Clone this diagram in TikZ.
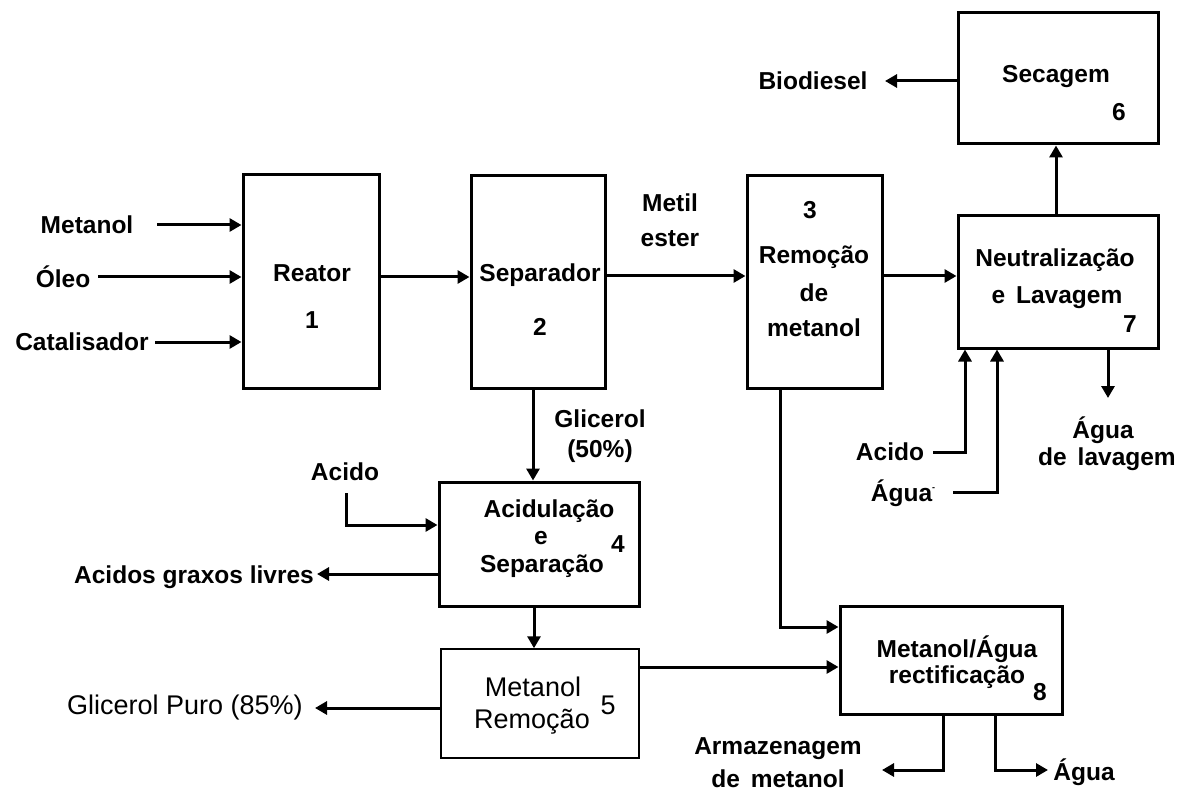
\documentclass[tikz,border=0pt]{standalone}
\usepackage{fontspec}
\setmainfont{Liberation Sans}
\usetikzlibrary{arrows.meta}
\begin{document}
\begin{tikzpicture}[x=1pt,y=-1pt,
  box/.style={draw, line width=3pt, rectangle, inner sep=0pt},
  thinbox/.style={draw, line width=1.5pt, rectangle, inner sep=0pt},
  lbl/.style={font=\fontsize{24.5}{28}\selectfont\bfseries, inner sep=0pt, align=center},
  lblr/.style={font=\fontsize{27}{31}\selectfont, inner sep=0pt, align=center},
  conn/.style={line width=3pt, -{Triangle[length=12pt,width=13pt]}},
  plain/.style={line width=3pt}
]
\useasboundingbox (0,0) rectangle (1188,794);
\fill[white] (0,0) rectangle (1188,794);

% boxes
\node[box, minimum width=136pt, minimum height=213pt] (reator) at (311,281.5) {};
\node[box, minimum width=134pt, minimum height=212pt] (separador) at (538,282) {};
\node[box, minimum width=135pt, minimum height=212pt] (remocao) at (814.5,282) {};
\node[box, minimum width=200pt, minimum height=131pt] (secagem) at (1058,78.5) {};
\node[box, minimum width=200pt, minimum height=132pt] (neutral) at (1058,282) {};
\node[box, minimum width=200pt, minimum height=124pt] (acid) at (539,544) {};
\node[thinbox, minimum width=198pt, minimum height=109pt] (metrem) at (540,703.5) {};
\node[box, minimum width=222pt, minimum height=108pt] (retif) at (951,660) {};

% texts in boxes
\node[lbl] (treator) at (312,273) {Reator};
\node[lbl] (t1) at (312,320) {1};
\node[lbl] (tsep) at (540,275) {Separador};
\node[lbl] (t2) at (540,327) {2};
\node[lbl] (t3) at (810,210) {3};
\node[lbl] (trem) at (814,257) {Remoção};
\node[lbl] (tde) at (814,293) {de};
\node[lbl] (tmetn) at (814,328) {metanol};
\node[lbl] (tsec) at (1056,77) {Secagem};
\node[lbl] (t6) at (1119,112) {6};
\node[lbl] (tneu) at (1055,260) {Neutralização};
\node[lbl] (tlav) at (1057,298) {e \,Lavagem};
\node[lbl] (t7) at (1130,324) {7};
\node[lbl] (tacidul) at (549,511) {Acidulação};
\node[lbl] (te) at (541,538) {e};
\node[lbl] (tsepar) at (542,566) {Separação};
\node[lbl] (t4) at (618,544) {4};
\node[lblr] (tmet5) at (533,687) {Metanol};
\node[lblr] (trem5) at (532,722) {Remoção};
\node[lblr] (t5) at (608,705) {5};
\node[lbl] (tma) at (957,649) {Metanol/Água};
\node[lbl] (trect) at (957,677) {rectificação};
\node[lbl] (t8) at (1040,692) {8};

% outside texts
\node[lbl] (lmet) at (87,225) {Metanol};
\node[lbl] (loleo) at (63,277) {Óleo};
\node[lbl] (lcat) at (82,342) {Catalisador};
\node[lbl] (lmetil) at (670,203) {Metil};
\node[lbl] (lester) at (670,239) {ester};
\node[lbl] (lbio) at (813,81) {Biodiesel};
\node[lbl] (lagua1) at (1103,430) {Água};
\node[lbl] (lagua2) at (1107,459) {de \,lavagem};
\node[lbl] (lacido2) at (890,452) {Acido};
\node[lbl] (lagua3) at (903,493) {Água\raisebox{0.45em}{\fontsize{9}{9}\selectfont -}};
\node[lbl] (lglic) at (600,419) {Glicerol};
\node[lbl] (lglic2) at (600,451) {(50\%)};
\node[lbl] (lacido1) at (345,472) {Acido};
\node[lbl] (lagl) at (194,577) {Acidos graxos livres};
\node[lblr] (lgp) at (185,708) {Glicerol Puro (85\%)};
\node[lbl] (larm) at (778,749) {Armazenagem};
\node[lbl] (larm2) at (778,779) {de \,metanol};
\node[lbl] (lagua4) at (1084,772) {Água};

% free end coordinates
\coordinate (s1) at (157,225);
\coordinate (s2) at (98,277);
\coordinate (s3) at (155,342);
\coordinate (rs) at (0,277);
\coordinate (sr) at (0,276);
\coordinate (rn) at (0,276);
\coordinate (ns) at (1056,0);
\coordinate (bioend) at (885,81);
\coordinate (lavx) at (1108,398);
\coordinate (ac2) at (933,452);
\coordinate (ac2k) at (965,452);
\coordinate (ag3) at (953,492);
\coordinate (ag3k) at (997,492);
\coordinate (sa) at (533,0);
\coordinate (ac1) at (346,493);
\coordinate (ac1k) at (346,525);
\coordinate (aglend) at (317,574);
\coordinate (am) at (534,0);
\coordinate (gpend) at (315,708);
\coordinate (mr) at (0,667);
\coordinate (r3) at (780,627);
\coordinate (arm) at (943,770);
\coordinate (armend) at (882,770);
\coordinate (ag4) at (995,770);
\coordinate (ag4end) at (1048,770);

% connectors
\draw[conn] (s1) -- (s1 -| reator.west);
\draw[conn] (s2) -- (s2 -| reator.west);
\draw[conn] (s3) -- (s3 -| reator.west);
\draw[conn] (rs -| reator.east) -- (rs -| separador.west);
\draw[conn] (sr -| separador.east) -- (sr -| remocao.west);
\draw[conn] (rn -| remocao.east) -- (rn -| neutral.west);
\draw[conn] (ns |- neutral.north) -- (ns |- secagem.south);
\draw[conn] (bioend -| secagem.west) -- (bioend);
\draw[conn] (lavx |- neutral.south) -- (lavx);
\draw[conn] (ac2) -- (ac2k) -- (ac2k |- neutral.south);
\draw[conn] (ag3) -- (ag3k) -- (ag3k |- neutral.south);
\draw[conn] (sa |- separador.south) -- (sa |- acid.north);
\draw[conn] (ac1) -- (ac1k) -- (ac1k -| acid.west);
\draw[conn] (aglend -| acid.west) -- (aglend);
\draw[conn] (am |- acid.south) -- (am |- metrem.north);
\draw[conn] (gpend -| metrem.west) -- (gpend);
\draw[conn] (mr -| metrem.east) -- (mr -| retif.west);
\draw[conn] (r3 |- remocao.south) -- (r3) -- (r3 -| retif.west);
\draw[conn] (arm |- retif.south) -- (arm) -- (armend);
\draw[conn] (ag4 |- retif.south) -- (ag4) -- (ag4end);
\end{tikzpicture}
\end{document}
